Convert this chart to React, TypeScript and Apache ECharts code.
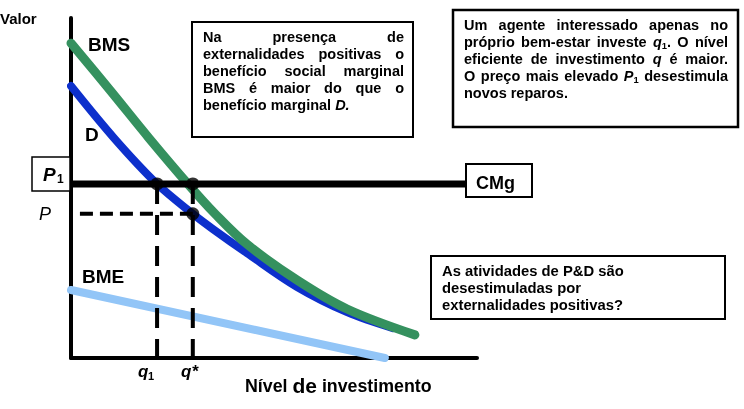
import React, { useEffect, useRef } from 'react';
import * as echarts from 'echarts';

// ---- data (value units: investment 0..100, valor 0..100) ----
const investBMS = [0, 9.6, 19.2, 28.8, 35.5, 43.3, 55.7, 68.0, 84.7];
const valueBMS = [92.6, 78.8, 64.7, 51.2, 42.4, 33.5, 22.9, 14.4, 6.8];
const investD = [0, 10.6, 21.2, 30.0, 35.0, 43.3, 55.7, 68.0, 79.3];
const valueD = [80.0, 64.7, 51.2, 42.4, 37.9, 30.9, 20.9, 13.5, 8.8];
const investBME = [0, 77.3];
const valueBME = [20.0, 0];
const cmgLevel = 51.2; // P1
const cmgEnd = 97.3;
const pLevel = 42.4; // P
const q1 = 21.2;
const qStar = 30.0;
const dashStart = 2.2;

const box1Lines = [
  'Na presença de',
  'externalidades positivas o',
  'benefício social marginal',
  'BMS é maior do que o',
  'benefício marginal ~D.~',
];
const box2Lines = [
  'Um agente interessado apenas no',
  'próprio bem-estar investe ~q~_1_. O nível',
  'eficiente de investimento ~q~ é maior.',
  'O preço mais elevado ~P~_1_ desestimula',
  'novos reparos.',
];
const box3Lines = ['As atividades de P&D são', 'desestimuladas por', 'externalidades positivas?'];

const FONT = "'Liberation Sans', Arial, Helvetica, sans-serif";

type Seg = { t: string; italic?: boolean; sub?: boolean };

let ctx: CanvasRenderingContext2D | null = null;
function measure(seg: Seg, size: number, weight = 'bold'): number {
  if (!ctx) ctx = document.createElement('canvas').getContext('2d');
  const s = seg.sub ? size * 0.65 : size;
  ctx!.font = `${seg.italic ? 'italic ' : ''}${weight} ${s}px ${FONT}`;
  return ctx!.measureText(seg.t).width;
}

function parseWord(w: string): Seg[] {
  return w
    .split(/(~[^~]+~|_[^_]+_)/)
    .filter((p) => p.length)
    .map((p) => {
      if (p.startsWith('~')) return { t: p.slice(1, -1), italic: true };
      if (p.startsWith('_')) return { t: p.slice(1, -1), sub: true };
      return { t: p };
    });
}

function textEl(seg: Seg, x: number, cy: number, size: number, weight = 'bold') {
  const s = seg.sub ? size * 0.65 : size;
  return {
    type: 'text',
    x,
    y: seg.sub ? cy + size * 0.25 : cy,
    z: 20,
    style: {
      text: seg.t,
      fill: '#000',
      fontFamily: FONT,
      fontSize: s,
      fontWeight: weight,
      fontStyle: seg.italic ? 'italic' : 'normal',
      textAlign: 'left',
      textVerticalAlign: 'middle',
      align: 'left',
      verticalAlign: 'middle',
    },
  };
}

function lineEls(line: string, left: number, right: number, cy: number, size: number, justify: boolean) {
  const words = line.split(' ').map(parseWord);
  const widths = words.map((w) => w.reduce((s, seg) => s + measure(seg, size), 0));
  const total = widths.reduce((a, b) => a + b, 0);
  const gap =
    justify && words.length > 1 ? (right - left - total) / (words.length - 1) : measure({ t: ' ' }, size);
  const els: any[] = [];
  let x = left;
  words.forEach((w, i) => {
    let sx = x;
    w.forEach((seg) => {
      els.push(textEl(seg, sx, cy, size));
      sx += measure(seg, size);
    });
    x += widths[i] + gap;
  });
  return els;
}

function box(x: number, y: number, w: number, h: number, lw = 2) {
  return {
    type: 'rect',
    z: 10,
    shape: { x, y, width: w, height: h },
    style: { fill: '#fff', stroke: '#000', lineWidth: lw },
  };
}

function label(text: string, x: number, cy: number, size: number, extra: any = {}) {
  return {
    type: 'text',
    x,
    y: cy,
    z: 20,
    style: {
      text,
      fill: '#000',
      fontFamily: FONT,
      fontSize: size,
      fontWeight: 'bold',
      fontStyle: 'normal',
      textAlign: 'left',
      textVerticalAlign: 'middle',
      align: 'left',
      verticalAlign: 'middle',
      ...extra,
    },
  };
}

export default function App() {
  const ref = useRef<HTMLDivElement>(null);
  useEffect(() => {
    if (!ref.current) return;
    const chart = echarts.init(ref.current, undefined, { renderer: 'svg' });

    const graphics: any[] = [];
    // boxes
    graphics.push(box(192, 22, 221, 115));
    box1Lines.forEach((l, i) => graphics.push(...lineEls(l, 203, 404, 37 + i * 17, 14.5, i < box1Lines.length - 1)));
    graphics.push(box(453, 10, 285, 117, 2.5));
    box2Lines.forEach((l, i) => graphics.push(...lineEls(l, 464, 728, 25 + i * 17, 14.5, i < box2Lines.length - 1)));
    graphics.push(box(431, 256, 294, 63));
    box3Lines.forEach((l, i) => graphics.push(...lineEls(l, 442, 720, 271 + i * 17, 14.8, false)));
    // CMg box
    graphics.push(box(466, 164, 66, 33));
    graphics.push(label('CMg', 476, 182.5, 18));
    // P1 box
    graphics.push(box(32, 157, 38, 34, 1.5));
    graphics.push(label('P', 43, 174, 19, { fontStyle: 'italic' }));
    graphics.push(label('1', 57, 179, 12));
    // P label
    graphics.push(label('P', 39, 213.5, 18, { fontStyle: 'italic', fontWeight: 'normal' }));
    // curve labels
    graphics.push(label('BMS', 88, 44.5, 19));
    graphics.push(label('D', 85, 134, 19));
    graphics.push(label('BME', 82, 276.5, 19));
    graphics.push(label('Valor', 0, 18.8, 15));
    // q labels
    graphics.push(label('q', 138, 371, 17, { fontStyle: 'italic' }));
    graphics.push(label('1', 148, 376, 11));
    graphics.push(label('q*', 181, 371, 17, { fontStyle: 'italic' }));
    // axis title
    graphics.push({
      type: 'text',
      x: 245,
      y: 385.5,
      z: 20,
      style: {
        text: '{a|Nível }{b|de}{a| investimento}',
        fill: '#000',
        fontFamily: FONT,
        textAlign: 'left',
        textVerticalAlign: 'middle',
        align: 'left',
        verticalAlign: 'middle',
        rich: {
          a: { fontFamily: FONT, fontSize: 17.8, fontWeight: 'bold', fill: '#000' },
          b: { fontFamily: FONT, fontSize: 21, fontWeight: 'bold', fill: '#000' },
        },
      },
    });

    const toPts = (xs: number[], ys: number[]) => xs.map((x, i) => [x, ys[i]]);

    chart.setOption({
      animation: false,
      grid: { left: 71, top: 18, width: 406, height: 340 },
      xAxis: {
        type: 'value',
        min: 0,
        max: 100,
        axisLine: { show: true, lineStyle: { color: '#000', width: 4 } },
        axisTick: { show: false },
        axisLabel: { show: false },
        splitLine: { show: false },
      },
      yAxis: {
        type: 'value',
        min: 0,
        max: 100,
        axisLine: { show: true, lineStyle: { color: '#000', width: 4 } },
        axisTick: { show: false },
        axisLabel: { show: false },
        splitLine: { show: false },
      },
      series: [
        {
          name: 'BME',
          type: 'line',
          data: toPts(investBME, valueBME),
          showSymbol: false,
          symbol: 'none',
          lineStyle: { color: '#92c5f7', width: 8, cap: 'round' },
          z: 2,
        },
        {
          name: 'D',
          type: 'line',
          data: toPts(investD, valueD),
          smooth: 0.35,
          symbol: 'none',
          lineStyle: { color: '#0d30cc', width: 8, cap: 'round' },
          z: 3,
        },
        {
          name: 'BMS',
          type: 'line',
          data: toPts(investBMS, valueBMS),
          smooth: 0.35,
          symbol: 'none',
          lineStyle: { color: '#35915f', width: 9, cap: 'round' },
          z: 4,
        },
        {
          name: 'CMg',
          type: 'line',
          data: [
            [0, cmgLevel],
            [cmgEnd, cmgLevel],
          ],
          symbol: 'none',
          lineStyle: { color: '#000', width: 7 },
          z: 5,
        },
        {
          name: 'Pdash',
          type: 'line',
          data: [
            [dashStart, pLevel],
            [qStar, pLevel],
          ],
          symbol: 'none',
          lineStyle: { color: '#000', width: 4, type: [13, 7] },
          z: 6,
        },
        {
          name: 'q1dash',
          type: 'line',
          data: [
            [q1, cmgLevel],
            [q1, 0],
          ],
          symbol: 'none',
          lineStyle: { color: '#000', width: 4, type: [20, 11] },
          z: 6,
        },
        {
          name: 'qsdash',
          type: 'line',
          data: [
            [qStar, cmgLevel],
            [qStar, 0],
          ],
          symbol: 'none',
          lineStyle: { color: '#000', width: 4, type: [20, 11] },
          z: 6,
        },
        {
          name: 'points',
          type: 'scatter',
          data: [
            [q1, cmgLevel],
            [qStar, cmgLevel],
            [qStar, pLevel],
          ],
          symbol: 'circle',
          symbolSize: 13,
          itemStyle: { color: '#000' },
          z: 7,
        },
      ],
      graphic: { elements: graphics },
    });
    return () => chart.dispose();
  }, []);
  return <div ref={ref} style={{ position: 'fixed', left: 0, top: 0, width: 744, height: 409 }} />;
}
